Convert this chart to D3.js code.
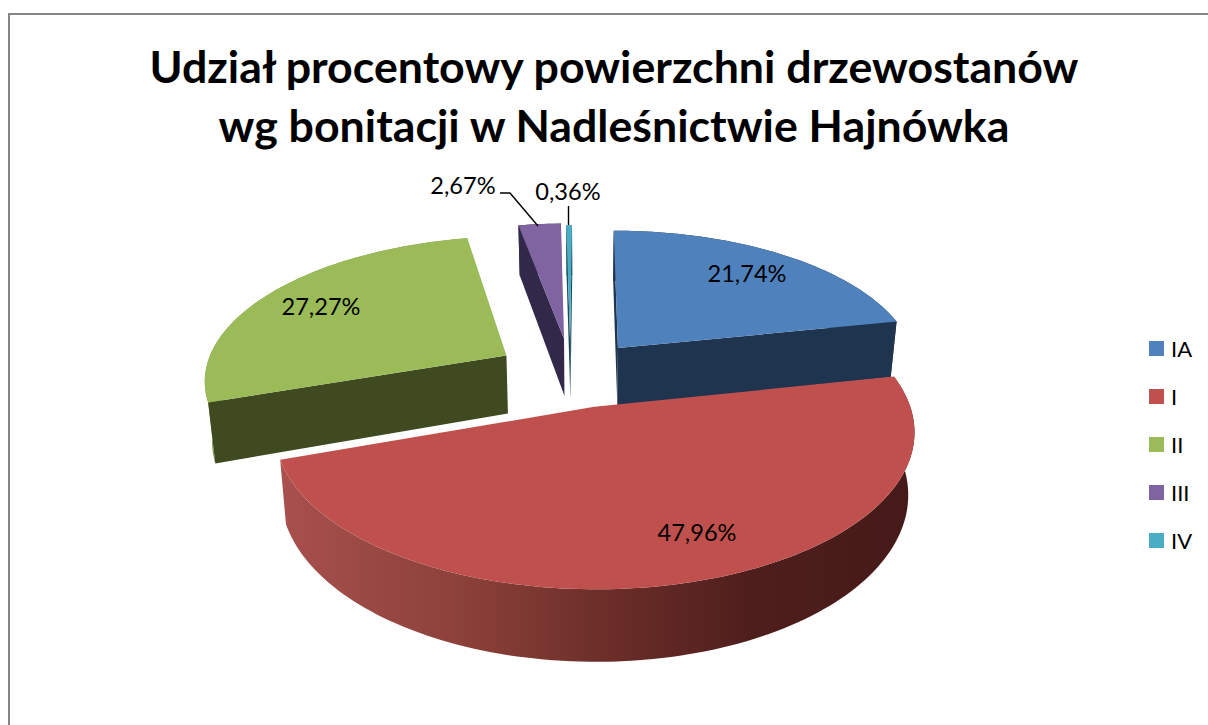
<!DOCTYPE html>
<html><head><meta charset="utf-8">
<style>html,body{margin:0;padding:0;background:#fff;overflow:hidden}svg{display:block}text{font-family:Lato,"Noto Sans",sans-serif;fill:#000}</style>
<script src="https://cdn.jsdelivr.net/npm/d3@7"></script></head><body>
<script>
const categories = ["IA","I","II","III","IV"];
const shares = [21.74,47.96,27.27,2.67,0.36];
const shareLabels = ["21,74%","47,96%","27,27%","2,67%","0,36%"];
const titleLines = ["Udział procentowy powierzchni drzewostanów","wg bonitacji w Nadleśnictwie Hajnówka"];
const topColors = ["#4f81bd","#c0504d","#9bbb59","#8064a2","#4bacc6"];
const wallColors = ["#1f344f","#4a1c1a","#3f4a20","#32284a","#1d4a55"];
const rimColors = ["#1f344f","url(#redRim)","#7f9a48","#32284a","#1d4a55"];
// layout
const W=1208,H=725, cx=585, cy=373, R=302, a=142, p=0.15, h=59, pz=0.019;
const explode = [[.112,-.18],[.030,.23],[-.265,-.125],[-.072,-.25],[-.051,-.23]];
const radiusFactor = [1,1.01,1,1,1];
const labelXY = [[747,274],[697,533],[321,307],[463,186],[568,192]];
const drawOrder = [3,4,0,2,1];

const svg=d3.select("body").append("svg").attr("width",W).attr("height",H);
const g0=svg.append("defs").append("linearGradient").attr("id","redRim")
  .attr("gradientUnits","userSpaceOnUse").attr("x1",282).attr("x2",910).attr("y1",0).attr("y2",0);
[[0,"#a8504e"],[.3,"#8a4038"],[.5,"#6e2f2a"],[.75,"#4e1e1c"],[1,"#451a18"]].forEach(s=>g0.append("stop").attr("offset",s[0]).attr("stop-color",s[1]));
svg.append("rect").attr("x",9).attr("y",14).attr("width",W+20).attr("height",H+20).attr("fill","#fff").attr("stroke","#868686").attr("stroke-width",2);

function proj(X,Y,z){const s=1/(1-p*Y);let x=cx+R*X*s,y=cy+a*Y*s;
  if(z){x=cx+(x-cx)*(1-pz);y+=h*s;}return [x,y];}
const pie=d3.pie().sort(null).value(d=>d)(shares);
const line=d3.line();
function disc(i,t,r){const e=explode[i],f=radiusFactor[i];return [e[0]+f*r*Math.sin(t),e[1]-f*r*Math.cos(t)];}
const cross=(u,v)=>u[0]*v[1]-u[1]*v[0];
const plot=svg.append("g");
drawOrder.forEach(i=>{
  const d=pie[i], n=Math.max(4,Math.ceil((d.endAngle-d.startAngle)*40));
  const ts=d3.range(n+1).map(k=>d.startAngle+(d.endAngle-d.startAngle)*k/n);
  const P=(t,r,z)=>{const q=disc(i,t,r);return proj(q[0],q[1],z);};
  const rimTop=ts.map(t=>P(t,1,0)), rimBot=ts.map(t=>P(t,1,1));
  const A=P(0,0,0),Ab=P(0,0,1), M=P((d.startAngle+d.endAngle)/2,.6,0);
  const G=plot.append("g");
  G.append("path").attr("d",line(rimTop.concat(rimBot.slice().reverse()))+"Z").attr("fill",rimColors[i]);
  [0,n].forEach(k=>{
    const E=rimTop[k], v=[E[0]-A[0],E[1]-A[1]], m=[M[0]-A[0],M[1]-A[1]];
    if(cross(v,m)*cross(v,[0,1])<0)
      G.append("path").attr("d",line([A,E,rimBot[k],Ab])+"Z").attr("fill",wallColors[i]);
  });
  G.append("path").attr("d",line([A].concat(rimTop))+"Z").attr("fill",topColors[i]);
});
// leader lines
[[[500,193],[510,193],[538,226]],[[568.5,206],[568.5,225]]].forEach(l=>
  svg.append("path").attr("d",line(l)).attr("fill","none").attr("stroke","#000").attr("stroke-width",1.4));
// data labels
shareLabels.forEach((t,i)=>svg.append("text").attr("x",labelXY[i][0]).attr("y",labelXY[i][1]+8).attr("text-anchor","middle").attr("font-size",23.6).text(t));
// title
titleLines.forEach((t,i)=>svg.append("text").attr("x",614).attr("y",83+i*58.5).attr("text-anchor","middle").attr("font-size",44.7).attr("font-weight",700).text(t));
// legend
const ly=d3.scalePoint().domain(categories).range([348.5,540.5]);
categories.forEach((c,i)=>{
  svg.append("rect").attr("x",1149).attr("y",ly(c)-7.5).attr("width",15).attr("height",15).attr("fill",topColors[i]);
  svg.append("text").attr("x",1171).attr("y",ly(c)+8).attr("font-size",22).text(c);
});
</script></body></html>
